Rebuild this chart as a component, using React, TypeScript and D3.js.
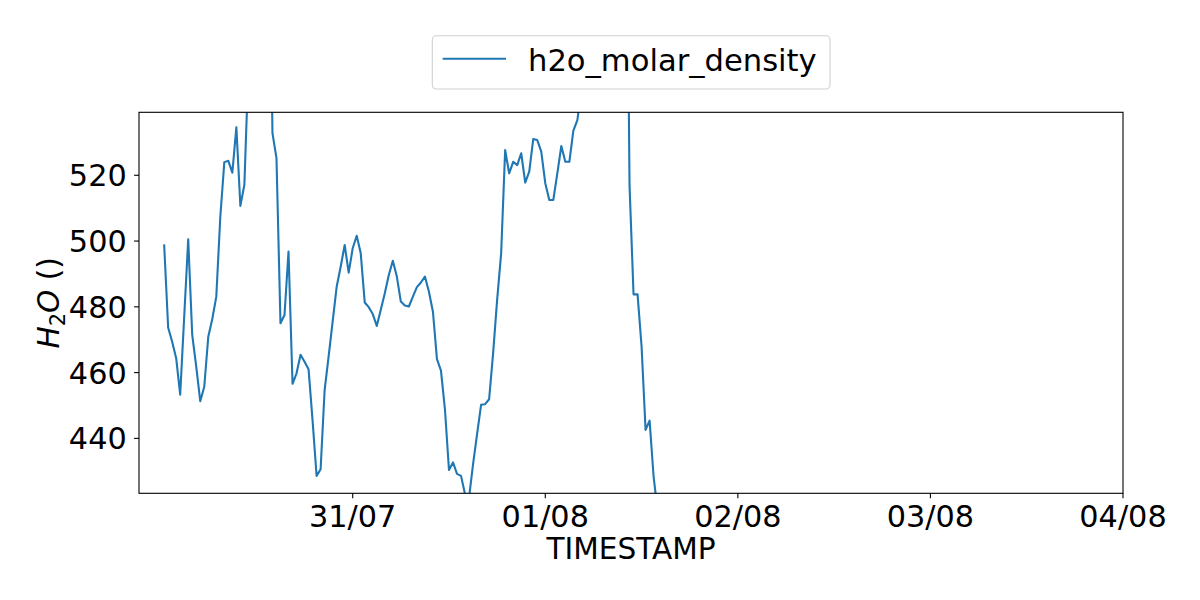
import React, { useEffect } from "react";
import * as d3 from "d3";

// Data: 30-minute samples of h2o_molar_density starting 30/07 00:30 (UTC)
const startTime = "2023-07-30T00:30:00Z";
const stepMinutes = 30;
const h2oValues: number[] = [
  499.0, 473.7, 469.4, 464.4, 453.3, 477.0, 500.5, 471.5, 461.8, 451.3,
  455.7, 470.9, 476.3, 483.1, 507.4, 524.0, 524.4, 520.8, 534.6, 510.7,
  517.1, 553.0, 565.0, 575.0, 580.0, 590.0, 620.0, 532.8, 525.2, 475.0,
  477.5, 496.8, 456.6, 459.8, 465.4, 463.3, 461.0, 445.4, 428.6, 430.6,
  454.7, 464.9, 475.5, 486.1, 492.2, 498.8, 490.4, 497.8, 501.6, 496.3,
  481.3, 479.9, 477.8, 474.2, 479.1, 484.1, 489.7, 494.0, 489.2, 481.6,
  480.4, 480.1, 483.1, 486.0, 487.4, 489.2, 484.6, 478.5, 464.1, 460.6,
  448.7, 430.4, 432.7, 429.2, 428.6, 423.0, 422.0, 432.2, 441.3, 450.2,
  450.4, 451.9, 465.9, 482.1, 496.3, 527.7, 520.6, 524.1, 523.1, 526.7,
  517.8, 521.1, 531.0, 530.7, 527.2, 517.6, 512.5, 512.5, 520.6, 528.9,
  524.1, 524.1, 533.6, 536.8, 546.0, 552.0, 558.0, 565.0, 570.0, 575.0,
  580.0, 585.0, 590.0, 600.0, 620.0, 650.0, 517.0, 483.8, 483.8, 468.0,
  442.6, 445.4, 428.4, 418.0, 412.0, 408.0,
];

const xDomain: [string, string] = ["2023-07-29T21:22:00Z", "2023-08-04T00:00:00Z"];
const yDomain: [number, number] = [423.3, 539.15];
const yTicks: number[] = [440, 460, 480, 500, 520];
const xTicks: string[] = [
  "2023-07-31T00:00:00Z",
  "2023-08-01T00:00:00Z",
  "2023-08-02T00:00:00Z",
  "2023-08-03T00:00:00Z",
  "2023-08-04T00:00:00Z",
];
const seriesName = "h2o_molar_density";
const xLabel = "TIMESTAMP";

const W = 1200;
const H = 600;
const margin = { left: 139, right: 77, top: 112.3, bottom: 106.7 };
const FONT = "'DejaVu Sans', sans-serif";
const COLOR = "#1f77b4";

export default function App() {
  useEffect(() => {
    document.body.style.margin = "0";
  }, []);

  const t0 = new Date(startTime).getTime();
  const data = h2oValues.map((v, i) => ({
    t: new Date(t0 + i * stepMinutes * 60000),
    v,
  }));

  const x = d3
    .scaleUtc()
    .domain(xDomain.map((d) => new Date(d)))
    .range([margin.left, W - margin.right]);
  const y = d3
    .scaleLinear()
    .domain(yDomain)
    .range([H - margin.bottom, margin.top]);

  const line = d3
    .line<{ t: Date; v: number }>()
    .x((d) => x(d.t))
    .y((d) => y(d.v));

  const fmt = d3.utcFormat("%d/%m");
  const x0 = margin.left;
  const x1 = W - margin.right;
  const yTop = margin.top;
  const yBot = H - margin.bottom;

  return (
    <svg width={W} height={H} style={{ display: "block", background: "#fff" }} fontFamily={FONT}>
      <defs>
        <clipPath id="plotclip">
          <rect x={x0} y={yTop} width={x1 - x0} height={yBot - yTop} />
        </clipPath>
      </defs>
      <path
        d={line(data) || ""}
        fill="none"
        stroke={COLOR}
        strokeWidth={2.1}
        strokeLinejoin="round"
        strokeLinecap="butt"
        clipPath="url(#plotclip)"
      />
      <rect x={x0} y={yTop} width={x1 - x0} height={yBot - yTop} fill="none" stroke="#000" strokeWidth={1.1} />
      {yTicks.map((t) => (
        <g key={t}>
          <line x1={x0 - 4.9} x2={x0} y1={y(t)} y2={y(t)} stroke="#000" strokeWidth={1.1} />
          <text x={x0 - 12.3} y={y(t)} dy="0.36em" textAnchor="end" fontSize={30.3} fill="#000">
            {t}
          </text>
        </g>
      ))}
      {xTicks.map((s) => {
        const d = new Date(s);
        return (
          <g key={s}>
            <line x1={x(d)} x2={x(d)} y1={yBot} y2={yBot + 4.9} stroke="#000" strokeWidth={1.1} />
            <text x={x(d)} y={526.5} textAnchor="middle" fontSize={30.3} fill="#000">
              {fmt(d)}
            </text>
          </g>
        );
      })}
      <text x={(x0 + x1) / 2} y={559} textAnchor="middle" fontSize={29.6} fill="#000">
        {xLabel}
      </text>
      <text
        transform={`translate(59, ${(yTop + yBot) / 2}) rotate(-90)`}
        textAnchor="middle"
        fontSize={29.6}
        fill="#000"
      >
        <tspan fontStyle="italic">H</tspan>
        <tspan fontSize={21} dy={6}>2</tspan>
        <tspan fontStyle="italic" dy={-6}>O</tspan>
        <tspan> ()</tspan>
      </text>
      <g>
        <rect x={432.3} y={35.7} width={397.7} height={53.3} rx={4} fill="#fff" stroke="#d0d0d0" strokeWidth={1.1} />
        <line x1={442.7} x2={506} y1={58.8} y2={58.8} stroke={COLOR} strokeWidth={2.1} />
        <text x={528} y={70.5} fontSize={30.6} fill="#000">
          {seriesName}
        </text>
      </g>
    </svg>
  );
}
